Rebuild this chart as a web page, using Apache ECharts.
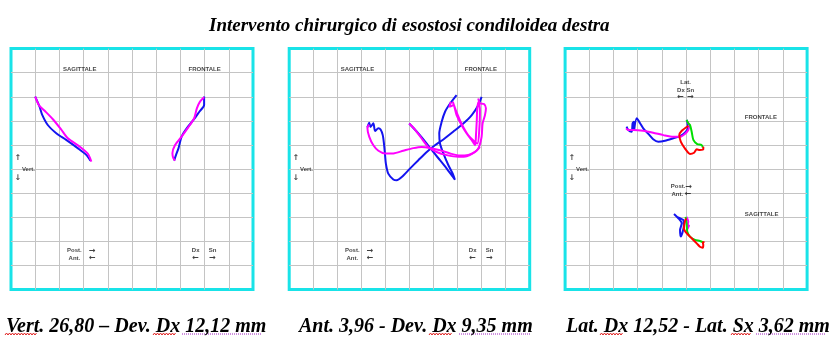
<!DOCTYPE html>
<html><head><meta charset="utf-8">
<script src="https://cdn.jsdelivr.net/npm/echarts@6/dist/echarts.min.js"></script>
<style>html,body{margin:0;padding:0;background:#fff}#c{width:831px;height:345px}</style>
</head><body><div id="c"></div><script>
// grid units: x 0..10 left->right, t 0..10 top->bottom (10x10 cells)
const chartTitle = 'Intervento chirurgico di esostosi condiloidea destra';
const captions = ['Vert. 26,80 \u2013 Dev. Dx 12,12 mm', 'Ant. 3,96 - Dev. Dx 9,35 mm', 'Lat. Dx 12,52 - Lat. Sx 3,62 mm'];

// Panel 1
const p1SagBlue = [[1.0,1.99],[1.18,2.41],[1.29,2.75],[1.52,3.17],[1.87,3.51],[2.28,3.79],[2.77,4.14],[3.11,4.41],[3.28,4.65]];
const p1SagMag = [[1.0,1.99],[1.15,2.34],[1.38,2.57],[1.73,2.93],[2.07,3.35],[2.35,3.72],[2.84,4.07],[3.18,4.37],[3.32,4.69]];
const p1FroBlue = [[7.98,1.99],[7.98,2.34],[7.79,2.61],[7.54,2.96],[7.26,3.31],[7.05,3.65],[6.92,4.14],[6.82,4.41],[6.74,4.65]];
const p1FroMag = [[7.98,2.02],[7.81,2.20],[7.68,2.48],[7.57,2.89],[7.33,3.26],[7.05,3.65],[6.78,4.0],[6.67,4.34],[6.71,4.55],[6.78,4.65]];

// Panel 2
const p2BlueA = [[3.25,3.27],[3.33,3.08],[3.38,3.25],[3.50,3.10],[3.57,3.42],[3.71,3.31],[3.80,3.36],[3.89,3.59],[3.94,3.94],[3.98,4.35],[4.02,4.77],[4.12,5.19],[4.33,5.43],[4.47,5.46],[4.68,5.33],[5.02,4.98],[5.37,4.63],[5.72,4.29],[6.06,4.01],[6.41,3.77],[6.82,3.45],[7.24,3.11],[7.59,2.76],[7.86,2.35],[8.00,2.0]];
const p2BlueB = [[4.99,3.11],[5.37,3.52],[5.72,3.94],[5.99,4.29],[6.27,4.63],[6.55,4.98],[6.76,5.26],[6.89,5.44],[6.80,5.19],[6.62,4.84],[6.41,4.35],[6.27,3.94],[6.24,3.52],[6.34,3.04],[6.48,2.62],[6.69,2.28],[6.96,1.93]];
const p2MagA = [[3.33,3.16],[3.25,3.27],[3.33,3.66],[3.50,4.01],[3.71,4.24],[3.98,4.35],[4.33,4.35],[4.74,4.24],[5.16,4.13],[5.51,4.08],[5.85,4.12],[6.27,4.22],[6.69,4.35],[7.10,4.44],[7.45,4.41],[7.73,4.29],[7.93,4.08]];
const p2MagB = [[4.99,3.11],[5.23,3.36],[5.51,3.73],[5.78,4.08],[6.13,4.29],[6.55,4.42],[7.03,4.49],[7.38,4.47],[7.66,4.33],[7.86,4.15],[8.00,3.66],[8.04,3.11],[8.14,2.76],[8.18,2.48],[8.10,2.30],[7.93,2.27],[7.86,2.07]];
const p2MagC = [[6.72,2.21],[6.66,2.42],[6.82,2.35],[6.96,2.76],[7.17,3.18],[7.38,3.52],[7.59,3.80],[7.73,4.01],[7.77,3.52],[7.80,2.97],[7.82,2.48],[7.88,2.21],[7.93,2.55],[7.91,3.25],[7.82,3.94],[7.45,3.60],[7.18,3.15],[6.95,2.62],[6.80,2.20]];

// Panel 3
const p3FroBlue = [[2.54,3.24],[2.61,3.38],[2.75,3.45],[2.79,3.10],[2.85,3.03],[2.85,3.41],[2.96,2.89],[3.10,3.10],[3.23,3.31],[3.44,3.54],[3.64,3.76],[3.85,3.86],[4.13,3.82],[4.47,3.72],[4.75,3.63],[4.95,3.49],[5.07,3.31],[5.05,3.03],[5.02,2.96]];
const p3FroMag = [[2.52,3.31],[2.61,3.38],[2.82,3.38],[3.23,3.41],[3.64,3.49],[4.06,3.59],[4.47,3.66],[4.75,3.66],[4.95,3.54],[5.09,3.38],[5.13,3.17],[5.05,3.03]];
const p3FroGreen = [[5.02,2.96],[5.09,3.10],[5.16,3.17],[5.23,3.45],[5.30,3.79],[5.46,3.96],[5.64,4.00],[5.69,4.10]];
const p3FroRed = [[5.09,3.21],[4.82,3.41],[4.72,3.59],[4.78,3.86],[4.95,4.14],[5.16,4.37],[5.33,4.32],[5.44,4.18],[5.57,4.21],[5.71,4.18],[5.71,4.07]];
const p3SagBlue = [[4.50,6.86],[4.68,7.04],[4.82,7.25],[4.75,7.53],[4.78,7.80],[4.86,7.60],[4.91,7.32],[4.88,7.11],[4.62,6.98]];
const p3SagMag = [[5.02,6.98],[5.09,7.18],[5.02,7.39],[5.13,7.32],[5.05,7.50]];
const p3SagGreen = [[4.98,6.98],[5.02,7.25],[5.05,7.60],[5.16,7.80],[5.37,7.94],[5.57,7.98],[5.71,8.04]];
const p3SagRed = [[5.00,7.05],[4.95,7.18],[4.91,7.46],[5.02,7.66],[5.23,7.87],[5.44,8.08],[5.57,8.22],[5.69,8.26],[5.71,8.15],[5.69,8.04],[5.76,8.02]];

// in-panel texts: [text, x, t]
const labelsSideBottom = [['\u2191',0.28,4.55],['Vert.',0.72,5.0],['\u2193',0.28,5.38],['Post.',2.62,8.38],['\u2192',3.36,8.38],['Ant.',2.62,8.70],['\u2190',3.36,8.70],['Dx',7.63,8.38],['Sn',8.33,8.38],['\u2190',7.63,8.70],['\u2192',8.33,8.70]];
const p1Labels = [['SAGITTALE',2.84,0.84],['FRONTALE',8.0,0.84]].concat(labelsSideBottom);
const p2Labels = [['SAGITTALE',2.84,0.84],['FRONTALE',7.97,0.84]].concat(labelsSideBottom);
const p3Labels = [['\u2191',0.28,4.55],['Vert.',0.72,5.0],['\u2193',0.28,5.38],['Lat.',4.98,1.41],['Dx Sn',4.98,1.72],['\u2190  \u2192',4.98,2.02],['FRONTALE',8.09,2.85],['Post.\u2192',4.81,5.73],['Ant. \u2190',4.81,6.03],['SAGITTALE',8.12,6.86]];

const BLUE = '#1414f0', MAG = '#ff00ff', GREEN = '#00e000', RED = '#ff0000';
const grids = [
  {left: 11, top: 48.6, width: 242, height: 241},
  {left: 289.2, top: 48.6, width: 240.5, height: 241},
  {left: 565.1, top: 48.6, width: 242, height: 241}
];
const axisCommon = {type: 'value', min: 0, max: 10, interval: 1,
  axisLabel: {show: false}, axisTick: {show: false},
  axisLine: {show: false},
  splitLine: {show: true, showMinLine: false, showMaxLine: false, lineStyle: {color: '#c4c4c4', width: 1}}};

function line(idx, data, color) {
  return {type: 'line', xAxisIndex: idx, yAxisIndex: idx, data: data, showSymbol: false,
    smooth: 0.25, lineStyle: {color: color, width: 2}, silent: true, z: 3};
}
function labels(idx, arr) {
  return {type: 'scatter', xAxisIndex: idx, yAxisIndex: idx, symbolSize: 0, silent: true, z: 5,
    data: arr.map(a => ({name: a[0], value: [a[1], a[2]]})),
    label: {show: true, position: 'inside', color: '#111',
      formatter: p => p.name.replace(/([\u2190-\u2193])/g, '{a|$1}'),
      fontFamily: 'Liberation Sans, Arial', fontWeight: 'bold', fontSize: 6,
      rich: {a: {fontFamily: 'DejaVu Sans', fontSize: 8, fontWeight: 'bold', color: '#111'}}}};
}

// spell-check style underlines beneath captions (decoration)
function wavy(x1, x2, y, color) {
  const pts = [];
  for (let x = x1, k = 0; x <= x2; x += 1.5, k++) pts.push([x, y + (k % 2 ? -1 : 1)]);
  return {type: 'polyline', shape: {points: pts}, style: {stroke: color, lineWidth: 1, fill: null}, silent: true};
}
function dotted(x1, x2, y, color) {
  return {type: 'line', shape: {x1: x1, y1: y, x2: x2, y2: y}, style: {stroke: color, lineWidth: 1, lineDash: [1, 1]}, silent: true};
}
const underlines = [
  wavy(5, 37, 334, '#e02020'), wavy(153, 176, 334, '#e02020'), dotted(182, 262, 334, '#a020c0'),
  wavy(429, 452, 334, '#e02020'), dotted(459, 530, 334, '#a020c0'),
  wavy(600, 623, 334, '#e02020'), wavy(731, 751, 334, '#e02020'), dotted(756, 826, 334, '#a020c0')
];

const chart = echarts.init(document.getElementById('c'), null, {renderer: 'canvas'});
const serifBI = {fontFamily: 'Liberation Serif', fontStyle: 'italic', fontWeight: 'bold', color: '#000'};
chart.setOption({
  animation: false,
  backgroundColor: '#fff',
  title: [
    {text: chartTitle, left: 204, top: 12, textStyle: Object.assign({fontSize: 19}, serifBI)},
    {text: captions[0], left: 1, top: 312, textStyle: Object.assign({fontSize: 20}, serifBI)},
    {text: captions[1], left: 294, top: 312, textStyle: Object.assign({fontSize: 20}, serifBI)},
    {text: captions[2], left: 561, top: 312, textStyle: Object.assign({fontSize: 20}, serifBI)}
  ],
  grid: grids.map(g => Object.assign({show: true, borderColor: '#19e3e8', borderWidth: 3, backgroundColor: '#fff'}, g)),
  xAxis: [0,1,2].map(i => Object.assign({gridIndex: i, position: 'bottom'}, axisCommon)),
  yAxis: [0,1,2].map(i => Object.assign({gridIndex: i, inverse: true, position: 'left'}, axisCommon)),
  graphic: underlines,
  series: [
    line(0, p1SagBlue, BLUE), line(0, p1SagMag, MAG), line(0, p1FroBlue, BLUE), line(0, p1FroMag, MAG),
    line(1, p2BlueA, BLUE), line(1, p2BlueB, BLUE), line(1, p2MagA, MAG), line(1, p2MagB, MAG), line(1, p2MagC, MAG),
    line(2, p3FroBlue, BLUE), line(2, p3FroMag, MAG), line(2, p3FroGreen, GREEN), line(2, p3FroRed, RED),
    line(2, p3SagBlue, BLUE), line(2, p3SagMag, MAG), line(2, p3SagGreen, GREEN), line(2, p3SagRed, RED),
    labels(0, p1Labels), labels(1, p2Labels), labels(2, p3Labels)
  ]
});
</script></body></html>
